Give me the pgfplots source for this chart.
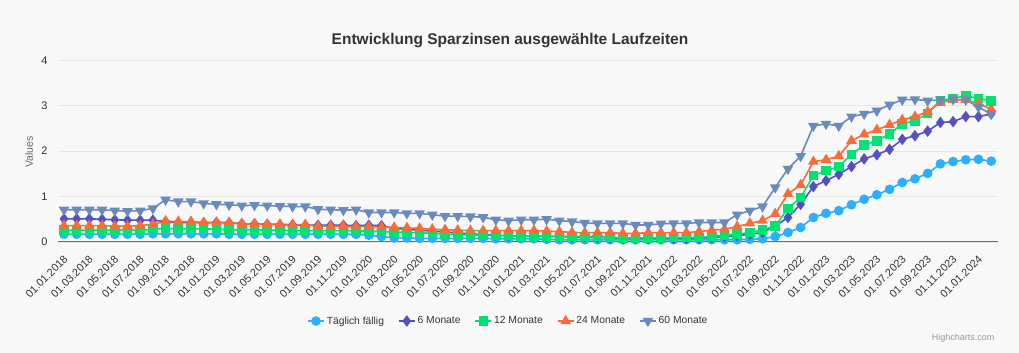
\documentclass[border=0pt]{standalone}
\usepackage{fontspec}
\setmainfont{Liberation Sans}
\usepackage{pgfplots}
\pgfplotsset{compat=1.18}
\usepackage{pgfplotstable}
\definecolor{cA}{HTML}{2CAFFE}
\definecolor{cB}{HTML}{544FC5}
\definecolor{cC}{HTML}{00E272}
\definecolor{cD}{HTML}{FE6A35}
\definecolor{cE}{HTML}{6B8ABC}
\definecolor{bgc}{HTML}{F8F8F8}
\definecolor{gridc}{HTML}{E6E6E6}
\definecolor{txt}{HTML}{333333}
\definecolor{axtitle}{HTML}{666666}
\definecolor{credit}{HTML}{999999}

\pgfplotstableread{
i d m6 m12 m24 m60
0 0.17 0.51 0.26 0.36 0.71
1 0.17 0.51 0.26 0.36 0.71
2 0.17 0.51 0.26 0.36 0.71
3 0.17 0.50 0.26 0.36 0.71
4 0.17 0.49 0.26 0.35 0.69
5 0.17 0.48 0.26 0.35 0.68
6 0.17 0.48 0.26 0.36 0.69
7 0.18 0.48 0.28 0.39 0.74
8 0.18 0.45 0.30 0.46 0.93
9 0.18 0.43 0.29 0.45 0.89
10 0.18 0.43 0.29 0.45 0.89
11 0.18 0.42 0.29 0.43 0.85
12 0.18 0.43 0.28 0.43 0.83
13 0.17 0.42 0.27 0.43 0.82
14 0.17 0.40 0.27 0.40 0.80
15 0.17 0.40 0.27 0.40 0.81
16 0.17 0.39 0.26 0.39 0.80
17 0.17 0.38 0.26 0.39 0.79
18 0.17 0.38 0.25 0.38 0.78
19 0.17 0.37 0.25 0.38 0.78
20 0.17 0.37 0.25 0.35 0.72
21 0.17 0.37 0.25 0.35 0.71
22 0.17 0.37 0.25 0.35 0.70
23 0.17 0.36 0.245 0.34 0.71
24 0.15 0.37 0.24 0.34 0.65
25 0.12 0.36 0.23 0.33 0.65
26 0.09 0.30 0.22 0.32 0.65
27 0.09 0.28 0.21 0.31 0.63
28 0.08 0.26 0.205 0.30 0.63
29 0.08 0.24 0.19 0.28 0.60
30 0.08 0.22 0.175 0.27 0.57
31 0.08 0.20 0.16 0.26 0.57
32 0.08 0.18 0.155 0.25 0.56
33 0.08 0.16 0.15 0.25 0.545
34 0.07 0.15 0.14 0.25 0.49
35 0.07 0.14 0.14 0.25 0.47
36 0.07 0.13 0.13 0.25 0.49
37 0.07 0.13 0.13 0.25 0.49
38 0.06 0.12 0.13 0.24 0.50
39 0.05 0.12 0.12 0.23 0.47
40 0.05 0.11 0.12 0.21 0.45
41 0.05 0.11 0.12 0.205 0.42
42 0.05 0.10 0.12 0.205 0.41
43 0.05 0.09 0.10 0.205 0.41
44 0.05 0.08 0.09 0.19 0.41
45 0.05 0.08 0.09 0.19 0.375
46 0.05 0.08 0.09 0.205 0.375
47 0.05 0.08 0.09 0.205 0.40
48 0.05 0.08 0.10 0.205 0.41
49 0.05 0.08 0.10 0.205 0.41
50 0.05 0.08 0.10 0.23 0.43
51 0.05 0.10 0.12 0.26 0.43
52 0.05 0.12 0.15 0.28 0.43
53 0.05 0.14 0.17 0.34 0.60
54 0.06 0.17 0.21 0.41 0.69
55 0.07 0.21 0.265 0.47 0.78
56 0.12 0.35 0.35 0.62 1.20
57 0.21 0.54 0.74 1.06 1.61
58 0.32 0.83 0.98 1.255 1.89
59 0.54 1.22 1.46 1.77 2.555
60 0.63 1.35 1.57 1.81 2.60
61 0.69 1.49 1.66 1.89 2.555
62 0.82 1.66 1.93 2.23 2.76
63 0.94 1.83 2.13 2.37 2.82
64 1.04 1.92 2.23 2.47 2.89
65 1.16 2.04 2.38 2.58 3.02
66 1.31 2.26 2.60 2.69 3.13
67 1.39 2.34 2.67 2.76 3.14
68 1.51 2.44 2.83 2.87 3.11
69 1.72 2.63 3.11 3.07 3.13
70 1.77 2.65 3.16 3.13 3.14
71 1.81 2.76 3.22 3.13 3.13
72 1.82 2.76 3.16 3.05 2.97
73 1.78 2.82 3.11 2.92 2.82
}\data

\begin{document}
\begin{tikzpicture}
\fill[bgc] (0,0) rectangle (1019pt,353pt);
\path[use as bounding box] (0,0) rectangle (1019pt,353pt);
\node[font=\fontsize{15.5}{18}\selectfont\bfseries, text=txt] at (510pt,312pt) {Entwicklung Sparzinsen ausgewählte Laufzeiten};
\node[font=\fontsize{10.5}{12}\selectfont, text=axtitle, rotate=90] at (29pt,201pt) {Values};
\node[font=\fontsize{9}{10}\selectfont, text=credit, anchor=east] at (998pt,15pt) {Highcharts.com};
\begin{axis}[
  at={(58pt,111pt)}, anchor=south west,
  scale only axis, width=940pt, height=181.7pt,
  xmin=-0.47, xmax=73.54, ymin=0, ymax=4,
  axis x line*=bottom, axis y line*=left,
  y axis line style={draw=none},
  x axis line style={draw=txt!70, line width=1pt, -},
  major tick length=0pt,
  ytick={0,1,2,3,4},
  ymajorgrids, grid style={draw=gridc, line width=0.9pt},
  /pgf/number format/assume math mode=true,
  yticklabel style={font=\fontsize{11}{13}\selectfont, text=txt, xshift=-7pt},
  xtick={0,2,...,72},
  xticklabels={01.01.2018,01.03.2018,01.05.2018,01.07.2018,01.09.2018,01.11.2018,01.01.2019,01.03.2019,01.05.2019,01.07.2019,01.09.2019,01.11.2019,01.01.2020,01.03.2020,01.05.2020,01.07.2020,01.09.2020,01.11.2020,01.01.2021,01.03.2021,01.05.2021,01.07.2021,01.09.2021,01.11.2021,01.01.2022,01.03.2022,01.05.2022,01.07.2022,01.09.2022,01.11.2022,01.01.2023,01.03.2023,01.05.2023,01.07.2023,01.09.2023,01.11.2023,01.01.2024},
  xticklabel style={font=\fontsize{10.8}{13}\selectfont, text=txt, xshift=-1pt, yshift=-11pt, rotate=45, anchor=north east, inner sep=1pt},
  every axis plot/.append style={line width=1.6pt},
  legend columns=5,
  legend style={at={(0.479,-0.435)}, anchor=center, draw=none, fill=none,
    font=\fontsize{10.3}{12}\selectfont, text=txt,
    /tikz/every even column/.append style={column sep=12pt}},
  legend image code/.code={\draw[mark repeat=2,mark phase=2,#1] plot coordinates {(0pt,0pt) (8pt,0pt) (16pt,0pt)};},
]
\addplot[cA, mark=*, mark size=4pt, mark options={draw=none, fill=cA}] table[x=i, y=d] {\data};
\addlegendentry{Täglich fällig}
\addplot[cB, mark=diamond*, mark size=4.5pt, mark options={draw=none, fill=cB}] table[x=i, y=m6] {\data};
\addlegendentry{6 Monate}
\addplot[cC, mark=square*, mark size=4pt, mark options={draw=none, fill=cC}] table[x=i, y=m12] {\data};
\addlegendentry{12 Monate}
\addplot[cD, mark=triangle*, mark size=4.6pt, mark options={draw=none, fill=cD}] table[x=i, y=m24] {\data};
\addlegendentry{24 Monate}
\addplot[cE, mark=triangle*, mark size=4.6pt, mark options={draw=none, fill=cE, rotate=180}] table[x=i, y=m60] {\data};
\addlegendentry{60 Monate}
\end{axis}
\end{tikzpicture}
\end{document}
